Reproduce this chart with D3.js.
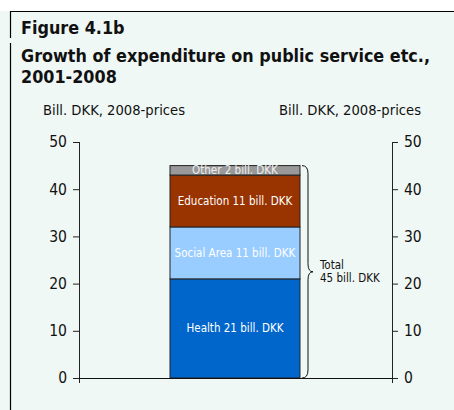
<!DOCTYPE html>
<html>
<head>
<meta charset="utf-8">
<script src="https://cdn.jsdelivr.net/npm/d3@7"></script>
<style>
  html, body { margin: 0; padding: 0; background: #ffffff; }
  svg { display: block; }
  text { font-family: "DejaVu Sans Condensed", "Liberation Sans Narrow", "Noto Sans", sans-serif; }
</style>
</head>
<body>
<script>
// Growth in expenditure by area, 2001-2008 (bill. DKK, 2008-prices)
const categories = ["Health", "Social Area", "Education", "Other"];
const values = [21, 11, 11, 2];
const labels = ["Health 21 bill. DKK", "Social Area 11 bill. DKK", "Education 11 bill. DKK", "Other 2 bill. DKK"];
const colors = ["#0066cc", "#99ccff", "#993300", "#999999"];
const yTicks = [0, 10, 20, 30, 40, 50];
const totalLabel = ["Total", "45 bill. DKK"];
const axisTitle = "Bill. DKK, 2008-prices";

const W = 454, H = 410;
const svg = d3.select("body").append("svg").attr("width", W).attr("height", H);

// squeeze a text horizontally by a factor, keeping its glyph height
function squeeze(sel, k) {
  const len = sel.node().getComputedTextLength();
  sel.attr("textLength", (len * k).toFixed(1)).attr("lengthAdjust", "spacingAndGlyphs");
}

// panel background and frame
svg.append("rect").attr("x", 0).attr("y", 11).attr("width", W).attr("height", H - 11).attr("fill", "#f0f8f5");
svg.append("line").attr("x1", 10).attr("x2", W).attr("y1", 11.5).attr("y2", 11.5).attr("stroke", "#000").attr("stroke-width", 1.2);
svg.append("line").attr("x1", 10.5).attr("x2", 10.5).attr("y1", 11).attr("y2", 38).attr("stroke", "#000").attr("stroke-width", 1.2);
svg.append("line").attr("x1", 10.5).attr("x2", 10.5).attr("y1", 43).attr("y2", H).attr("stroke", "#000").attr("stroke-width", 1.2);

// headings
const headFs = 18.5;
const fig = svg.append("text").attr("x", 21).attr("y", 34).attr("font-size", headFs).attr("font-weight", "bold").attr("fill", "#111").text("Figure 4.1b");
const t1 = svg.append("text").attr("x", 21).attr("y", 62).attr("font-size", headFs).attr("font-weight", "bold").attr("fill", "#111").text("Growth of expenditure on public service etc.,");
const t2 = svg.append("text").attr("x", 21).attr("y", 83).attr("font-size", headFs).attr("font-weight", "bold").attr("fill", "#111").text("2001-2008");
const k = 409 / t1.node().getComputedTextLength();
[fig, t1, t2].forEach(t => squeeze(t, k));

// axis titles
const at1 = svg.append("text").attr("x", 43).attr("y", 115).attr("font-size", 14.5).attr("fill", "#111").text(axisTitle);
const ka = 142 / at1.node().getComputedTextLength();
squeeze(at1, ka);
const at2 = svg.append("text").attr("x", 279).attr("y", 115).attr("font-size", 14.5).attr("fill", "#111").text(axisTitle);
squeeze(at2, ka);

// scales
const xL = 79, xR = 392;
const y = d3.scaleLinear().domain([0, 50]).range([378, 142]);

// stacked data
const stackRows = [Object.fromEntries(categories.map((c, i) => [c, values[i]]))];
const series = d3.stack().keys(categories)(stackRows);

// axes
const leftAxis = d3.axisLeft(y).tickValues(yTicks).tickSize(6).tickPadding(6);
const rightAxis = d3.axisRight(y).tickValues(yTicks).tickSize(6).tickPadding(6);
function styleAxis(g) {
  g.select(".domain").remove();
  g.selectAll(".tick line").attr("stroke", "#222");
  g.selectAll(".tick text").attr("font-size", 15.5).attr("fill", "#111")
    .style("font-family", "\"DejaVu Sans Condensed\", \"Liberation Sans Narrow\", sans-serif");
}
svg.append("g").attr("transform", `translate(${xL},0)`).call(leftAxis).call(styleAxis);
svg.append("g").attr("transform", `translate(${xR},0)`).call(rightAxis).call(styleAxis);
svg.append("line").attr("x1", xL + 0.5).attr("x2", xL + 0.5).attr("y1", y(50)).attr("y2", y(0) + 5).attr("stroke", "#222");
svg.append("line").attr("x1", xR + 0.5).attr("x2", xR + 0.5).attr("y1", y(50)).attr("y2", y(0) + 5).attr("stroke", "#222");

// bar segments
const barX = 170, barW = 130;
const seg = svg.append("g");
series.forEach((s, i) => {
  const d = s[0];
  seg.append("rect")
    .attr("x", barX).attr("width", barW)
    .attr("y", y(d[1])).attr("height", y(d[0]) - y(d[1]))
    .attr("fill", colors[i]).attr("stroke", "#222").attr("stroke-width", 1);
});
series.forEach((s, i) => {
  const d = s[0];
  const cy = (y(d[0]) + y(d[1])) / 2;
  seg.append("text").attr("x", barX + barW / 2).attr("y", cy).attr("dy", "0.35em")
    .attr("text-anchor", "middle").attr("font-size", 11.5)
    .attr("fill", i === 3 ? "#eeeeee" : "#ffffff").text(labels[i]);
});

// baseline
svg.append("line").attr("x1", xL).attr("x2", xR).attr("y1", y(0) + 0.5).attr("y2", y(0) + 0.5).attr("stroke", "#111");

// brace spanning the total
const total = d3.sum(values);
const braceTop = y(total), braceBot = y(0), braceMid = (braceTop + braceBot) / 2, bxr = barX + barW;
const bp = d3.path();
bp.moveTo(bxr + 2, braceTop);
bp.quadraticCurveTo(bxr + 8, braceTop, bxr + 8, braceTop + 8);
bp.lineTo(bxr + 8, braceMid - 8);
bp.quadraticCurveTo(bxr + 8, braceMid, bxr + 13, braceMid);
bp.quadraticCurveTo(bxr + 8, braceMid, bxr + 8, braceMid + 8);
bp.lineTo(bxr + 8, braceBot - 8);
bp.quadraticCurveTo(bxr + 8, braceBot, bxr + 2, braceBot);
svg.append("path").attr("d", bp.toString()).attr("fill", "none").attr("stroke", "#111").attr("stroke-width", 1);
svg.append("text").attr("x", 320).attr("y", braceMid - 3).attr("font-size", 11.5).attr("fill", "#111").text(totalLabel[0]);
svg.append("text").attr("x", 320).attr("y", braceMid + 10).attr("font-size", 11.5).attr("fill", "#111").text(totalLabel[1]);
</script>
</body>
</html>
